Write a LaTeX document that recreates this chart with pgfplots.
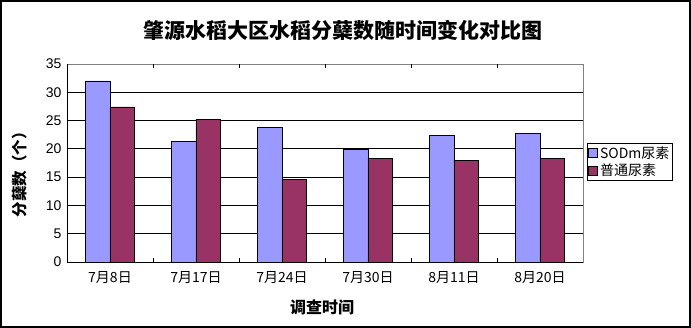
\documentclass[border=0pt]{standalone}
\usepackage{fontspec}
\setmainfont{Noto Sans CJK SC}
\newfontfamily\num{Liberation Sans}
\usepackage{pgfplots}
\pgfplotsset{compat=1.18}
\definecolor{sod}{HTML}{9999FF}
\definecolor{ptn}{HTML}{993366}
\begin{document}
\begin{tikzpicture}[x=1pt,y=1pt]
\path[use as bounding box] (-67,-66) rectangle (624,262);
\draw[line width=2.4pt] (-65.8,-64.8) rectangle (622.8,260.8);
\begin{axis}[at={(0,0)}, anchor=south west, scale only axis,
  width=516pt, height=198pt,
  ymin=0, ymax=35, ytick={0,5,...,35},
  xmin=-0.5, xmax=5.5,
  ybar=0pt, bar width=24.7pt,
  xtick={0,...,5},
  xticklabels={7月8日,7月17日,7月24日,7月30日,8月11日,8月20日},
  major x tick style={draw=none},
  extra x ticks={0.5,1.5,2.5,3.5,4.5},
  extra x tick labels={},
  extra x tick style={grid=none, major tick length=4pt, tick align=inside, major x tick style={draw=black, line width=0.8pt}},
  ymajorgrids, grid style={black, line width=0.8pt},
  major y tick style={draw=none},
  axis line style={draw=gray, line width=0.8pt},
  /pgf/number format/assume math mode=true,
  yticklabel style={font=\num\fontsize{14}{14}\selectfont, xshift=-2pt},
  xticklabel style={font=\fontsize{14}{14}\selectfont, yshift=-2pt},
  legend style={at={(1.0078,0.601)}, anchor=north west, draw=black, line width=0.8pt,
    font=\fontsize{14}{16}\selectfont, inner sep=1pt, row sep=0pt,
    cells={anchor=west}},
  legend image code/.code={\draw[#1, line width=0.6pt] (0pt,-4.5pt) rectangle (9pt,4.5pt);},
  clip=false,
]
\addplot[fill=sod, draw=black, line width=0.7pt] coordinates {(0,32.0) (1,21.3) (2,23.8) (3,19.9) (4,22.3) (5,22.7)};
\addplot[fill=ptn, draw=black, line width=0.7pt] coordinates {(0,27.4) (1,25.2) (2,14.6) (3,18.3) (4,18.0) (5,18.3)};
\legend{SODm尿素,普通尿素}
\draw[black, line width=0.8pt] (rel axis cs:0,1) -- (rel axis cs:0,0) -- (rel axis cs:1,0);
\end{axis}
\node[font=\bfseries\fontsize{21}{21}\selectfont] at (276,232) {肇源水稻大区水稻分蘖数随时间变化对比图};
\node[font=\bfseries\fontsize{15.5}{16}\selectfont, rotate=90] at (-47,91) {分蘖数（个）};
\node[font=\bfseries\fontsize{16}{16}\selectfont] at (255,-45) {调查时间};
\end{tikzpicture}
\end{document}
